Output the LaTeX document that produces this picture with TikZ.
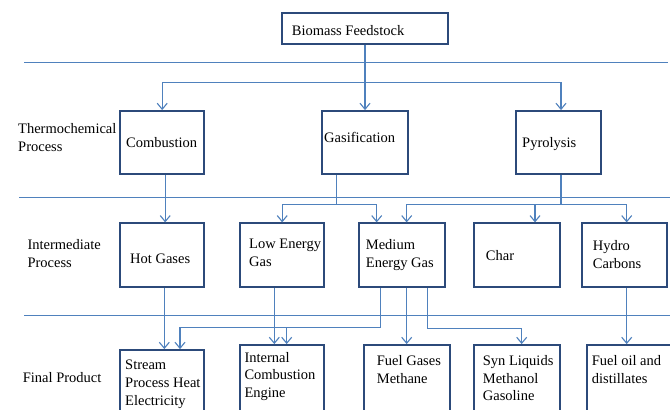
\documentclass[tikz,border=0pt]{standalone}
\usepackage{fontspec}
\setmainfont{Liberation Serif}
\usetikzlibrary{arrows.meta}
\definecolor{linec}{RGB}{79,129,189}
\definecolor{boxc}{RGB}{44,74,122}
\begin{document}
\begin{tikzpicture}[x=1pt,y=-1pt,
  font=\rmfamily\fontsize{14.5}{17.7}\selectfont,
  box/.style={draw=boxc, line width=1.8pt, inner sep=0pt},
  txt/.style={inner sep=0pt, anchor=north west, align=left, text=black},
  sepline/.style={draw=linec, line width=1pt},
  link/.style={draw=linec, line width=1.1pt},
  conn/.style={draw=linec, line width=1.1pt, -{Straight Barb[length=6pt,width=10pt]}}]
\useasboundingbox (0,0) rectangle (670,410);
\fill[white] (0,0) rectangle (670,410);
% separator lines
\draw[sepline] (24,62.3) -- (668,62.3);
\draw[sepline] (19,197.8) -- (670,197.8);
\draw[sepline] (24,315.7) -- (670,315.7);
% row labels
\node[txt] (lab1) at (18,123.1) {Thermochemical\\Process};
\node[txt] (lab2) at (27.3,239.1) {Intermediate\\Process};
\node[txt] (lab3) at (22.7,371.8) {Final Product};
% boxes
\node[box, minimum width=166, minimum height=31] (bio) at (365,28.8) {};
\node[box, minimum width=84.3, minimum height=63] (comb) at (162.2,142.5) {};
\node[box, minimum width=86, minimum height=63] (gas) at (365,142.5) {};
\node[box, minimum width=85, minimum height=63] (pyro) at (558.2,142.5) {};
\node[box, minimum width=84.3, minimum height=64] (hot) at (162.2,255.3) {};
\node[box, minimum width=84.3, minimum height=64] (low) at (282.2,255.3) {};
\node[box, minimum width=85.7, minimum height=64] (med) at (402.2,255.3) {};
\node[box, minimum width=85.7, minimum height=64] (char) at (517.2,255.3) {};
\node[box, minimum width=85, minimum height=64] (hydro) at (624.8,255.3) {};
\node[box, minimum width=84.3, minimum height=80] (stream) at (162.2,390) {};
\node[box, minimum width=84.3, minimum height=85] (ice) at (282.2,387.5) {};
\node[box, minimum width=85.7, minimum height=85] (fuelg) at (407.2,387.5) {};
\node[box, minimum width=85.7, minimum height=85] (syn) at (517.2,387.5) {};
\node[box, minimum width=83.7, minimum height=85] (oil) at (629.2,387.5) {};
% box texts
\node[txt] (bioT) at (291.7,25.1) {Biomass Feedstock};
\node[txt] (combT) at (126,137.1) {Combustion};
\node[txt] (gasT) at (324,131.8) {Gasification};
\node[txt] (pyroT) at (522,136.8) {Pyrolysis};
\node[txt] (hotT) at (130,253.4) {Hot Gases};
\node[txt] (lowT) at (249,239.1) {Low Energy\\Gas};
\node[txt] (medT) at (365.7,239.1) {Medium\\Energy Gas};
\node[txt] (charT) at (485.7,250.1) {Char};
\node[txt] (hydroT) at (592.7,240.1) {Hydro\\Carbons};
\node[txt] (streamT) at (125,360.1) {Stream\\Process Heat\\Electricity};
\node[txt] (iceT) at (244.3,351.8) {Internal\\Combustion\\Engine};
\node[txt] (fuelgT) at (376.7,355.1) {Fuel Gases\\Methane};
\node[txt] (synT) at (482.7,355.1) {Syn Liquids\\Methanol\\Gasoline};
\node[txt] (oilT) at (591.7,355.1) {Fuel oil and\\distillates};
% connectors: feedstock to processes
\coordinate (j1) at (365,82.3);
\draw[conn] (bio.south) -- (gas.north);
\draw[conn] (j1) -| (comb.north);
\draw[conn] (j1) -| ([xshift=2.8]pyro.north);
% processes to intermediates
\draw[conn] ([xshift=3]comb.south) -- ([xshift=3]comb.south |- hot.north);
\coordinate (j2) at (336.7,204.5);
\draw[link] ([xshift=-28.3]gas.south) -- (j2);
\draw[conn] (j2) -| (low.north);
\draw[conn] (j2) -| ([xshift=-25.5]med.north);
\coordinate (j3) at (561,204.5);
\draw[link] ([xshift=2.8]pyro.south) -- (j3);
\draw[conn] (j3) -| ([xshift=4.5]med.north);
\draw[conn] (j3) -| ([xshift=17.8]char.north);
\draw[conn] (j3) -| ([xshift=1.9]hydro.north);
% intermediates to final products
\draw[conn] ([xshift=2.1]hot.south) -- ([xshift=2.1]hot.south |- stream.north);
\coordinate (m1) at (380.7,327.7);
\draw[link] ([xshift=-21.5]med.south) -- (m1);
\draw[conn] (m1) -| ([xshift=17.8]stream.north);
\draw[conn] (m1) -| ([xshift=4.5]ice.north);
\draw[conn] ([xshift=-7.9]low.south) -- ([xshift=-7.9]low.south |- ice.north);
\draw[conn] ([xshift=4.5]med.south) -- ([xshift=4.5]med.south |- fuelg.north);
\draw[conn] ([xshift=25.1]med.south) -- ++(0,40) -| ([xshift=4.5]syn.north);
\draw[conn] ([xshift=1.9]hydro.south) -- ([xshift=1.9]hydro.south |- oil.north);
\end{tikzpicture}
\end{document}
